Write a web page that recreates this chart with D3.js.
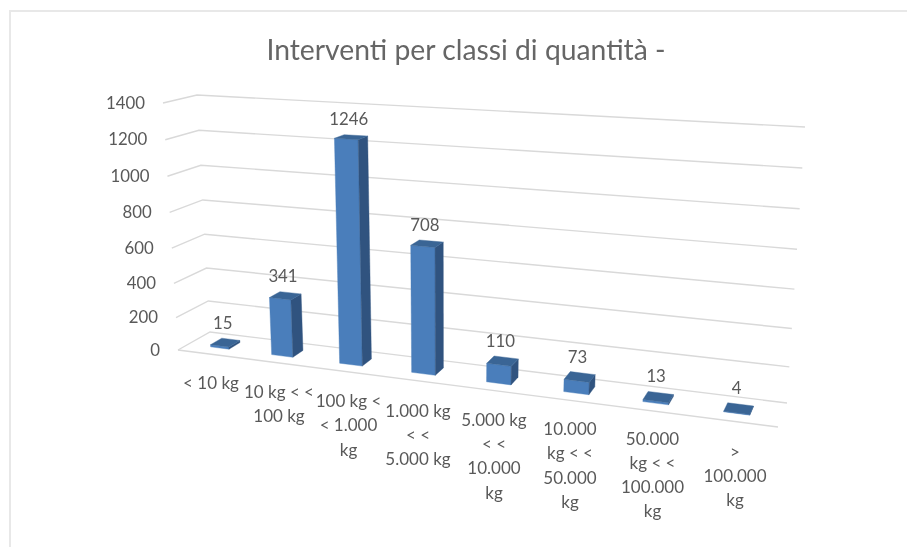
<!DOCTYPE html>
<html><head><meta charset="utf-8">
<script src="https://cdn.jsdelivr.net/npm/d3@7"></script>
<style>
html,body{margin:0;padding:0;background:#fff;overflow:hidden}
svg{display:block;filter:blur(0.45px)}
text{font-family:Lato,"Open Sans",sans-serif;fill:#595959}
</style></head><body>
<svg id="c" width="907" height="547"></svg>
<script>
const chartTitle = "Interventi per classi di quantità -";
const categories = ["< 10 kg","10 kg < < 100 kg","100 kg < < 1.000 kg","1.000 kg < < 5.000 kg","5.000 kg < < 10.000 kg","10.000 kg < < 50.000 kg","50.000 kg < < 100.000 kg","> 100.000 kg"];
const categoryLines = [["< 10 kg"],["10 kg < <","100 kg"],["100 kg <","< 1.000","kg"],["1.000 kg","< <","5.000 kg"],["5.000 kg","< <","10.000","kg"],["10.000","kg < <","50.000","kg"],["50.000","kg < <","100.000","kg"],[">","100.000","kg"]];
const values = [15,341,1246,708,110,73,13,4];
const yTicks = [0,200,400,600,800,1000,1200,1400];

const svg = d3.select("#c");
// frame
svg.append("path").attr("d","M10,547V11H907").attr("fill","none").attr("stroke","#e8e8e8").attr("stroke-width",2);

// projection: u along the category axis, v into the depth of the floor, h along the value axis
const lerp = d3.interpolateNumber;
const zScale = d3.scalePow().exponent(1.045).domain([0,1400]).range([0,1]);
const uScale = d3.scalePow().exponent(1.13).domain([0,1]).range([0.0095,0.9945]);
const FL0=[178,350],FR0=[778,427],FLT=[163,103],FRT=[797,139],BL0=[210,332],BR0=[787,403],BLT=[197,95],BRT=[805,127];
function project(u,v,z){
  const h=zScale(z);
  const pt=(a0,b0,at,bt)=>[0,1].map(k=>{
    const bot=lerp(a0[k],b0[k])(u), top=lerp(at[k],bt[k])(u);
    return lerp(bot,top)(h);
  });
  const f=pt(FL0,FR0,FLT,FRT), b=pt(BL0,BR0,BLT,BRT);
  return [lerp(f[0],b[0])(v),lerp(f[1],b[1])(v)];
}
const line=d3.line();

// gridlines
svg.append("g").selectAll("path").data(yTicks).join("path")
  .attr("d",z=>line([project(0,0,z),project(0,1,z),project(1,1,z)]))
  .attr("fill","none").attr("stroke","#d9d9d9").attr("stroke-width",1.4);
svg.append("path").attr("d",line([project(0,0,0),project(1,0,0)]))
  .attr("fill","none").attr("stroke","#d9d9d9").attr("stroke-width",1.4);

// y tick labels
svg.append("g").selectAll("text").data(yTicks).join("text")
  .attr("x",z=>project(0,0,z)[0]-18).attr("y",z=>project(0,0,z)[1]-1)
  .attr("text-anchor","end").attr("dominant-baseline","central").attr("font-size",16.8).text(d=>d);

// bars
const n=categories.length, halfW=0.32/2, v0=0.33, v1=0.69;
const uAt=i=>uScale((i+0.5)/n);
const bars=svg.append("g").selectAll("g").data(values).join("g");
bars.each(function(val,i){
  const g=d3.select(this);
  const ua=uScale((i+0.5-halfW)/n), ub=uScale((i+0.5+halfW)/n);
  const face=(pts,col)=>g.append("path").attr("d",line(pts)+"Z").attr("fill",col).attr("stroke",col).attr("stroke-width",0.4);
  face([project(ua,v0,0),project(ub,v0,0),project(ub,v0,val),project(ua,v0,val)],"#4a7ebb");
  face([project(ub,v0,0),project(ub,v1,0),project(ub,v1,val),project(ub,v0,val)],"#30537f");
  face([project(ua,v0,val),project(ub,v0,val),project(ub,v1,val),project(ua,v1,val)],"#3a6595");
});
// value labels
svg.append("g").selectAll("text").data(values).join("text")
  .attr("x",(d,i)=>project(uAt(i),0.5,d)[0]-2)
  .attr("y",(d,i)=>project(uAt(i),v1,d)[1]-17)
  .attr("text-anchor","middle").attr("dominant-baseline","central").attr("font-size",16.8).text(d=>d);

// category labels
const labelX=d3.scaleLinear().domain([0,1,3,5,7]).range([211,279,418,570,735]);
const labelY=d3.scaleLinear().domain([0,6,7]).range([382,438,451]);
svg.append("g").selectAll("g").data(categoryLines).join("g")
  .each(function(ls,i){
    d3.select(this).selectAll("text").data(ls).join("text")
      .attr("x",labelX(i)).attr("y",(d,k)=>labelY(i)+k*24.3)
      .attr("text-anchor","middle").attr("dominant-baseline","central").attr("font-size",17).text(d=>d);
  });

// title
svg.append("text").attr("x",466).attr("y",49).attr("text-anchor","middle").attr("dominant-baseline","central")
  .attr("font-size",28.3).attr("font-weight",400).style("fill","#666").text(chartTitle);
</script>
</body></html>
